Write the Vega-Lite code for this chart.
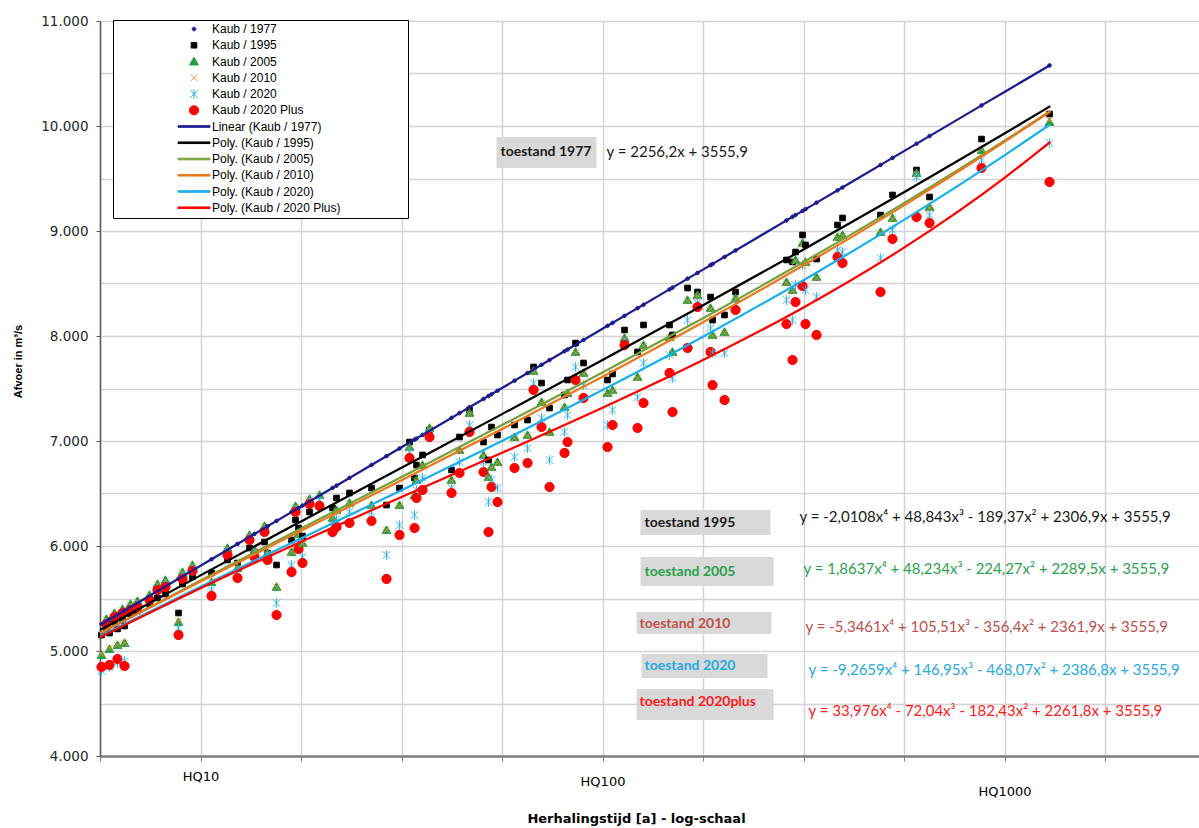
{
  "$schema": "https://vega.github.io/schema/vega-lite/v6.json",
  "width": 1099,
  "height": 735,
  "autosize": {"type": "none"},
  "padding": {"left": 100, "top": 21, "right": 0, "bottom": 72},
  "background": "#ffffff",
  "config": {"view": {"stroke": null}},
  "datasets": {
    "points": [
      {"x":0.7537,"p1977":5256,"p1995":5152,"p2005":4962,"p2010":4971,"p2020":4810,"p2020plus":4848},
      {"x":0.7662,"p1977":5285,"p1995":5229,"p2005":5305,"p2010":5295,"p2020":5267,"p2020plus":5257},
      {"x":0.7736,"p1977":5301,"p1995":5171,"p2005":5019,"p2010":5029,"p2020":4848,"p2020plus":4867},
      {"x":0.7861,"p1977":5330,"p1995":5276,"p2005":5362,"p2010":5352,"p2020":5324,"p2020plus":5324},
      {"x":0.7935,"p1977":5346,"p1995":5210,"p2005":5057,"p2010":5057,"p2020":4886,"p2020plus":4924},
      {"x":0.8060,"p1977":5374,"p1995":5305,"p2005":5400,"p2010":5390,"p2020":5362,"p2020plus":5362},
      {"x":0.8110,"p1977":5386,"p1995":5238,"p2005":5076,"p2010":5076,"p2020":4905,"p2020plus":4857},
      {"x":0.8259,"p1977":5419,"p1995":5352,"p2005":5448,"p2010":5438,"p2020":5400,"p2020plus":5390},
      {"x":0.8433,"p1977":5459,"p1995":5381,"p2005":5476,"p2010":5467,"p2020":5438,"p2020plus":5419},
      {"x":0.8731,"p1977":5526,"p1995":5448,"p2005":5533,"p2010":5524,"p2020":5495,"p2020plus":5486},
      {"x":0.8930,"p1977":5571,"p1995":5505,"p2005":5638,"p2010":5629,"p2020":5600,"p2020plus":5581},
      {"x":0.9129,"p1977":5616,"p1995":5543,"p2005":5676,"p2010":5667,"p2020":5638,"p2020plus":5610},
      {"x":0.9453,"p1977":5689,"p1995":5362,"p2005":5276,"p2010":5286,"p2020":5219,"p2020plus":5152},
      {"x":0.9552,"p1977":5711,"p1995":5638,"p2005":5752,"p2010":5743,"p2020":5714,"p2020plus":5686},
      {"x":0.9801,"p1977":5767,"p1995":5705,"p2005":5819,"p2010":5810,"p2020":5781,"p2020plus":5762},
      {"x":1.0274,"p1977":5874,"p1995":5743,"p2005":5657,"p2010":5667,"p2020":5581,"p2020plus":5524},
      {"x":1.0672,"p1977":5964,"p1995":5867,"p2005":5981,"p2010":5971,"p2020":5943,"p2020plus":5914},
      {"x":1.0920,"p1977":6020,"p1995":5838,"p2005":5790,"p2010":5790,"p2020":5752,"p2020plus":5695},
      {"x":1.1219,"p1977":6087,"p1995":5981,"p2005":6105,"p2010":6095,"p2020":6076,"p2020plus":6057},
      {"x":1.1343,"p1977":6115,"p1995":5943,"p2005":5962,"p2010":5952,"p2020":5933,"p2020plus":5895},
      {"x":1.1592,"p1977":6171,"p1995":6038,"p2005":6190,"p2010":6181,"p2020":6152,"p2020plus":6133},
      {"x":1.1667,"p1977":6188,"p1995":5933,"p2005":5933,"p2010":5924,"p2020":5905,"p2020plus":5867},
      {"x":1.1891,"p1977":6239,"p1995":5819,"p2005":5610,"p2010":5610,"p2020":5457,"p2020plus":5343},
      {"x":1.2264,"p1977":6323,"p1995":6057,"p2005":5943,"p2010":5943,"p2020":5819,"p2020plus":5752},
      {"x":1.2363,"p1977":6345,"p1995":6248,"p2005":6381,"p2010":6371,"p2020":6343,"p2020plus":6324},
      {"x":1.2438,"p1977":6362,"p1995":6171,"p2005":6114,"p2010":6105,"p2020":6038,"p2020plus":5971},
      {"x":1.2537,"p1977":6385,"p1995":6095,"p2005":6029,"p2010":6019,"p2020":5895,"p2020plus":5838},
      {"x":1.2712,"p1977":6424,"p1995":6324,"p2005":6448,"p2010":6438,"p2020":6419,"p2020plus":6400},
      {"x":1.2960,"p1977":6480,"p1995":6390,"p2005":6486,"p2010":6476,"p2020":6438,"p2020plus":6381},
      {"x":1.3284,"p1977":6553,"p1995":6362,"p2005":6267,"p2010":6267,"p2020":6200,"p2020plus":6133},
      {"x":1.3383,"p1977":6575,"p1995":6457,"p2005":6343,"p2010":6333,"p2020":6257,"p2020plus":6181},
      {"x":1.3707,"p1977":6649,"p1995":6505,"p2005":6410,"p2010":6400,"p2020":6324,"p2020plus":6219},
      {"x":1.4254,"p1977":6772,"p1995":6552,"p2005":6390,"p2010":6381,"p2020":6324,"p2020plus":6238},
      {"x":1.4627,"p1977":6856,"p1995":6390,"p2005":6152,"p2010":6152,"p2020":5914,"p2020plus":5686},
      {"x":1.4950,"p1977":6929,"p1995":6552,"p2005":6390,"p2010":6381,"p2020":6200,"p2020plus":6105},
      {"x":1.5199,"p1977":6985,"p1995":6990,"p2005":6943,"p2010":6933,"p2020":6895,"p2020plus":6838},
      {"x":1.5324,"p1977":7013,"p1995":6648,"p2005":6486,"p2010":6476,"p2020":6295,"p2020plus":6171},
      {"x":1.5373,"p1977":7024,"p1995":6771,"p2005":6629,"p2010":6619,"p2020":6533,"p2020plus":6457},
      {"x":1.5523,"p1977":7058,"p1995":6867,"p2005":6771,"p2010":6762,"p2020":6648,"p2020plus":6533},
      {"x":1.5697,"p1977":7098,"p1995":7105,"p2005":7124,"p2010":7114,"p2020":7076,"p2020plus":7038},
      {"x":1.6244,"p1977":7221,"p1995":6724,"p2005":6629,"p2010":6619,"p2020":6552,"p2020plus":6505},
      {"x":1.6443,"p1977":7266,"p1995":7038,"p2005":6914,"p2010":6905,"p2020":6800,"p2020plus":6695},
      {"x":1.6692,"p1977":7322,"p1995":7295,"p2005":7267,"p2010":7257,"p2020":7152,"p2020plus":7086},
      {"x":1.7040,"p1977":7401,"p1995":6990,"p2005":6867,"p2010":6857,"p2020":6800,"p2020plus":6705},
      {"x":1.7164,"p1977":7429,"p1995":6819,"p2005":6657,"p2010":6648,"p2020":6419,"p2020plus":6133},
      {"x":1.7239,"p1977":7445,"p1995":7133,"p2005":6752,"p2010":6743,"p2020":6629,"p2020plus":6562},
      {"x":1.7388,"p1977":7479,"p1995":7057,"p2005":6800,"p2010":6790,"p2020":6552,"p2020plus":6419},
      {"x":1.7811,"p1977":7574,"p1995":7152,"p2005":7038,"p2010":7029,"p2020":6848,"p2020plus":6743},
      {"x":1.8135,"p1977":7648,"p1995":7200,"p2005":7057,"p2010":7048,"p2020":6933,"p2020plus":6790},
      {"x":1.8284,"p1977":7681,"p1995":7705,"p2005":7667,"p2010":7657,"p2020":7552,"p2020plus":7486},
      {"x":1.8483,"p1977":7726,"p1995":7552,"p2005":7371,"p2010":7362,"p2020":7219,"p2020plus":7133},
      {"x":1.8682,"p1977":7771,"p1995":7314,"p2005":7086,"p2010":7076,"p2020":6819,"p2020plus":6562},
      {"x":1.9055,"p1977":7855,"p1995":7438,"p2005":7324,"p2010":7314,"p2020":7086,"p2020plus":6886},
      {"x":1.9130,"p1977":7872,"p1995":7581,"p2005":7457,"p2010":7448,"p2020":7248,"p2020plus":6990},
      {"x":1.9329,"p1977":7917,"p1995":7933,"p2005":7848,"p2010":7838,"p2020":7705,"p2020plus":7581},
      {"x":1.9528,"p1977":7962,"p1995":7743,"p2005":7648,"p2010":7638,"p2020":7533,"p2020plus":7410},
      {"x":2.0125,"p1977":8097,"p1995":7581,"p2005":7457,"p2010":7448,"p2020":7152,"p2020plus":6943},
      {"x":2.0249,"p1977":8125,"p1995":7638,"p2005":7486,"p2010":7476,"p2020":7295,"p2020plus":7152},
      {"x":2.0548,"p1977":8192,"p1995":8057,"p2005":7981,"p2010":7971,"p2020":7943,"p2020plus":7914},
      {"x":2.0871,"p1977":8265,"p1995":7848,"p2005":7610,"p2010":7600,"p2020":7419,"p2020plus":7124},
      {"x":2.1020,"p1977":8298,"p1995":8105,"p2005":7914,"p2010":7905,"p2020":7743,"p2020plus":7362},
      {"x":2.1667,"p1977":8444,"p1995":8105,"p2005":7990,"p2010":7981,"p2020":7819,"p2020plus":7648},
      {"x":2.1742,"p1977":8461,"p1995":8010,"p2005":7848,"p2010":7838,"p2020":7600,"p2020plus":7276},
      {"x":2.2115,"p1977":8546,"p1995":8457,"p2005":8343,"p2010":8333,"p2020":8152,"p2020plus":7886},
      {"x":2.2363,"p1977":8601,"p1995":8419,"p2005":8390,"p2010":8381,"p2020":8314,"p2020plus":8276},
      {"x":2.2687,"p1977":8675,"p1995":8371,"p2005":8267,"p2010":8257,"p2020":8076,"p2020plus":7848},
      {"x":2.2737,"p1977":8686,"p1995":8152,"p2005":8010,"p2010":8000,"p2020":7838,"p2020plus":7533},
      {"x":2.3035,"p1977":8753,"p1995":8200,"p2005":8038,"p2010":8029,"p2020":7838,"p2020plus":7390},
      {"x":2.3309,"p1977":8815,"p1995":8419,"p2005":8362,"p2010":8352,"p2020":8305,"p2020plus":8248},
      {"x":2.4577,"p1977":9101,"p1995":8724,"p2005":8514,"p2010":8505,"p2020":8343,"p2020plus":8114},
      {"x":2.4727,"p1977":9135,"p1995":8705,"p2005":8438,"p2010":8429,"p2020":8152,"p2020plus":7771},
      {"x":2.4801,"p1977":9152,"p1995":8800,"p2005":8724,"p2010":8714,"p2020":8486,"p2020plus":8324},
      {"x":2.4975,"p1977":9191,"p1995":8962,"p2005":8886,"p2010":8876,"p2020":8676,"p2020plus":8476},
      {"x":2.5050,"p1977":9208,"p1995":8867,"p2005":8705,"p2010":8695,"p2020":8438,"p2020plus":8114},
      {"x":2.5324,"p1977":9270,"p1995":8733,"p2005":8562,"p2010":8552,"p2020":8371,"p2020plus":8010},
      {"x":2.5846,"p1977":9387,"p1995":9057,"p2005":8943,"p2010":8933,"p2020":8819,"p2020plus":8752},
      {"x":2.5970,"p1977":9415,"p1995":9124,"p2005":8962,"p2010":8952,"p2020":8800,"p2020plus":8695},
      {"x":2.6916,"p1977":9629,"p1995":9152,"p2005":8990,"p2010":8981,"p2020":8743,"p2020plus":8419},
      {"x":2.7214,"p1977":9696,"p1995":9343,"p2005":9124,"p2010":9114,"p2020":9010,"p2020plus":8924},
      {"x":2.7811,"p1977":9831,"p1995":9581,"p2005":9552,"p2010":9543,"p2020":9514,"p2020plus":9133},
      {"x":2.8135,"p1977":9904,"p1995":9324,"p2005":9229,"p2010":9219,"p2020":9152,"p2020plus":9076},
      {"x":2.9428,"p1977":10196,"p1995":9876,"p2005":9771,"p2010":9781,"p2020":9676,"p2020plus":9600},
      {"x":3.1120,"p1977":10577,"p1995":10114,"p2005":10038,"p2010":10057,"p2020":9838,"p2020plus":9467}
    ],
    "trend": [
      {"x":0.75,"l1977":5248.1,"l1995":5199.5,"l2005":5167.8,"l2010":5169.7,"l2020":5141.8,"l2020plus":5130.0},
      {"x":1.0,"l1977":5812.1,"l1995":5720.3,"l2005":5671.2,"l2010":5661.6,"l2020":5612.3,"l2020plus":5597.2},
      {"x":1.25,"l1977":6376.2,"l1995":6234.1,"l2005":6166.1,"l2010":6144.4,"l2020":6072.4,"l2020plus":6040.4},
      {"x":1.5,"l1977":6940.2,"l1995":6744.8,"l2005":6657.8,"l2010":6625.9,"l2020":6532.0,"l2020plus":6467.0},
      {"x":1.75,"l1977":7504.3,"l1995":7255.9,"l2005":7151.7,"l2010":7113.1,"l2020":7000.0,"l2020plus":6887.9},
      {"x":2.0,"l1977":8068.3,"l1995":7770.8,"l2005":7653.5,"l2010":7612.6,"l2020":7484.6,"l2020plus":7317.1},
      {"x":2.25,"l1977":8632.4,"l1995":8292.6,"l2005":8169.1,"l2010":8130.7,"l2020":7993.0,"l2020plus":7771.6},
      {"x":2.5,"l1977":9196.4,"l1995":8824.2,"l2005":8704.4,"l2010":8672.9,"l2020":8531.6,"l2020plus":8271.8},
      {"x":2.75,"l1977":9760.5,"l1995":9368.5,"l2005":9265.7,"l2010":9244.4,"l2020":9106.0,"l2020plus":8841.2},
      {"x":3.0,"l1977":10324.5,"l1995":9928.2,"l2005":9859.3,"l2010":9849.7,"l2020":9720.8,"l2020plus":9506.4},
      {"x":3.114,"l1977":10581.7,"l1995":10189.1,"l2005":10142.4,"l2010":10138.2,"l2020":10015.6,"l2020plus":9849.6}
    ],
    "boxes": [
      {"state":"1977","x":1.7363,"x2":1.9851,"Q":9895,"Q2":9600},
      {"state":"1995","x":2.0945,"x2":2.4179,"Q":6343,"Q2":6105},
      {"state":"2005","x":2.0945,"x2":2.4254,"Q":5895,"Q2":5619},
      {"state":"2010","x":2.0846,"x2":2.4204,"Q":5371,"Q2":5162},
      {"state":"2020","x":2.0970,"x2":2.4105,"Q":4971,"Q2":4743},
      {"state":"2020plus","x":2.0846,"x2":2.4254,"Q":4638,"Q2":4343}
    ],
    "boxlabels": [
      {"state":"1977","x":1.7463,"Q":9752,"text":"toestand 1977"},
      {"state":"1995","x":2.1045,"Q":6219,"text":"toestand 1995"},
      {"state":"2005","x":2.1045,"Q":5752,"text":"toestand 2005"},
      {"state":"2010","x":2.0921,"Q":5257,"text":"toestand 2010"},
      {"state":"2020","x":2.1045,"Q":4857,"text":"toestand 2020"},
      {"state":"2020plus","x":2.0921,"Q":4514,"text":"toestand 2020plus"}
    ],
    "equations": [
      {"state":"1977","x":2.0100,"Q":9752,"text":"y = 2256,2x + 3555,9"},
      {"state":"1995","x":2.4901,"Q":6276,"text":"y = -2,0108x⁴ + 48,843x³ - 189,37x² + 2306,9x + 3555,9"},
      {"state":"2005","x":2.5000,"Q":5781,"text":"y = 1,8637x⁴ + 48,234x³ - 224,27x² + 2289,5x + 3555,9"},
      {"state":"2010","x":2.5050,"Q":5229,"text":"y = -5,3461x⁴ + 105,51x³ - 356,4x² + 2361,9x + 3555,9"},
      {"state":"2020","x":2.5125,"Q":4819,"text":"y = -9,2659x⁴ + 146,95x³ - 468,07x² + 2386,8x + 3555,9"},
      {"state":"2020plus","x":2.5125,"Q":4429,"text":"y = 33,976x⁴ - 72,04x³ - 182,43x² + 2261,8x + 3555,9"}
    ]
  },
  "encoding": {
    "x": {
      "field": "x", "type": "quantitative",
      "scale": {"domain": [0.75, 3.4838], "nice": false, "zero": false},
      "axis": {
        "values": [0.75, 1, 1.25, 1.5, 1.75, 2, 2.25, 2.5, 2.75, 3, 3.25],
        "labelExpr": "datum.value == 1 ? 'HQ10' : (datum.value == 2 ? 'HQ100' : (datum.value == 3 ? 'HQ1000' : ''))",
        "grid": true, "gridColor": "#d4d4d4", "gridWidth": 1.5,
        "domainColor": "#808080", "domainWidth": 2.5,
        "tickColor": "#808080", "tickSize": 5, "tickWidth": 1,
        "labelFont": "DejaVu Sans", "labelFontSize": 13, "labelColor": "#000000",
        "labelBaseline": "top", "labelAlign": "center", "labelOverlap": false,
        "labelPadding": {"condition": [{"test": "datum.value == 2", "value": 14}, {"test": "datum.value == 3", "value": 24}], "value": 9},
        "title": "Herhalingstijd [a] - log-schaal",
        "titleFont": "DejaVu Sans", "titleFontSize": 13, "titleFontWeight": "bold", "titleColor": "#000000",
        "titleX": 536, "titleY": 62, "titleAlign": "center", "titleBaseline": "middle", "titleAnchor": null
      }
    },
    "y": {
      "field": "Q", "type": "quantitative",
      "scale": {"domain": [4000, 11000], "nice": false, "zero": false},
      "axis": {
        "values": [4000, 4500, 5000, 5500, 6000, 6500, 7000, 7500, 8000, 8500, 9000, 9500, 10000, 10500, 11000],
        "labelExpr": "datum.value % 1000 == 0 ? replace(format(datum.value, ','), ',', '.') : ''",
        "grid": true, "gridColor": "#d4d4d4", "gridWidth": 1.5,
        "domainColor": "#595959", "domainWidth": 1.5,
        "tickColor": "#595959", "tickSize": 4,
        "tickOpacity": {"condition": {"test": "datum.value % 1000 != 0", "value": 0}, "value": 1},
        "labelFont": "DejaVu Sans", "labelFontSize": 13.5, "labelColor": "#262626", "labelPadding": 8,
        "labelOverlap": false,
        "title": "Afvoer in m³/s",
        "titleFont": "Liberation Sans", "titleFontSize": 11, "titleFontWeight": "bold", "titleColor": "#000000",
        "titleAngle": -90, "titleX": -82, "titleY": 340, "titleAlign": "center", "titleBaseline": "middle", "titleAnchor": null
      }
    }
  },
  "layer": [
    {
      "data": {"name": "boxes"},
      "mark": {"type": "rect", "fill": "#d9d9d9"},
      "encoding": {"x2": {"field": "x2"}, "y2": {"field": "Q2"}}
    },
    {
      "encoding": {
        "stroke": {
          "field": "series", "type": "nominal",
          "scale": {
            "domain": ["p1977","p1995","p2005","p2010","p2020","p2020plus","l1977","l1995","l2005","l2010","l2020","l2020plus"],
            "range": ["#1c1c8f","#000000","#1f9e3a","#f4904a","#34b4ea","#ff0000","#1c1c8f","#000000","#77a03c","#e8791e","#1ab0ee","#ff0000"]
          },
          "legend": {
            "title": null, "orient": "none", "legendX": 13, "legendY": -1,
            "strokeColor": "#000000", "fillColor": "#ffffff", "padding": 4,
            "clipHeight": 10, "rowPadding": 4.25, "symbolSize": 64, "symbolStrokeWidth": 1,
            "symbolOffset": 71, "labelOffset": 12,
            "labelFont": "Liberation Sans", "labelFontSize": 12, "labelColor": "#000000", "labelLimit": 400,
            "labelExpr": "({'p1977':'Kaub / 1977','p1995':'Kaub / 1995','p2005':'Kaub / 2005','p2010':'Kaub / 2010','p2020':'Kaub / 2020','p2020plus':'Kaub / 2020 Plus','l1977':'Linear (Kaub / 1977)','l1995':'Poly. (Kaub / 1995)','l2005':'Poly. (Kaub / 2005)','l2010':'Poly. (Kaub / 2010)','l2020':'Poly. (Kaub / 2020)','l2020plus':'Poly. (Kaub / 2020 Plus)'})[datum.label] + '\u2800\u2800\u2800\u2800\u2800\u2800\u2800'"
          }
        }
      },
      "layer": [
        {
          "data": {"name": "points"},
          "transform": [{"fold": ["p1977","p1995","p2005","p2010","p2020","p2020plus"], "as": ["series","Q"]}],
          "mark": {"type": "point", "size": 64, "strokeWidth": 1, "opacity": 1},
          "encoding": {
            "fill": {
              "field": "series", "type": "nominal",
              "scale": {
                "domain": ["p1977","p1995","p2005","p2010","p2020","p2020plus","l1977","l1995","l2005","l2010","l2020","l2020plus"],
                "range": ["#1c1c8f","#000000","#1f9e3a","transparent","transparent","#ff0000","#1c1c8f","#000000","#77a03c","#e8791e","#1ab0ee","#ff0000"]
              },
              "legend": {
                "title": null, "orient": "none", "legendX": 13, "legendY": -1,
                "strokeColor": "#000000", "fillColor": "#ffffff", "padding": 4,
                "clipHeight": 10, "rowPadding": 4.25, "symbolSize": 64, "symbolStrokeWidth": 1,
                "symbolOffset": 71, "labelOffset": 12,
                "labelFont": "Liberation Sans", "labelFontSize": 12, "labelColor": "#000000", "labelLimit": 400,
                "labelExpr": "({'p1977':'Kaub / 1977','p1995':'Kaub / 1995','p2005':'Kaub / 2005','p2010':'Kaub / 2010','p2020':'Kaub / 2020','p2020plus':'Kaub / 2020 Plus','l1977':'Linear (Kaub / 1977)','l1995':'Poly. (Kaub / 1995)','l2005':'Poly. (Kaub / 2005)','l2010':'Poly. (Kaub / 2010)','l2020':'Poly. (Kaub / 2020)','l2020plus':'Poly. (Kaub / 2020 Plus)'})[datum.label] + '\u2800\u2800\u2800\u2800\u2800\u2800\u2800'"
              }
            },
            "shape": {
              "field": "series", "type": "nominal",
              "scale": {
                "domain": ["p1977","p1995","p2005","p2010","p2020","p2020plus","l1977","l1995","l2005","l2010","l2020","l2020plus"],
                "range": [
                  "M0.45,0A0.45,0.45,0,1,1,-0.45,0A0.45,0.45,0,1,1,0.45,0Z",
                  "M-0.7,-0.7L0.7,-0.7L0.7,0.7L-0.7,0.7Z",
                  "M0,-1.05L1.1,0.85L-1.1,0.85Z",
                  "M-0.85,-0.85L0.85,0.85M-0.85,0.85L0.85,-0.85",
                  "M-0.95,-0.95L0.95,0.95M-0.95,0.95L0.95,-0.95M0,-1.2L0,1.2",
                  "M1.15,0A1.15,1.15,0,1,1,-1.15,0A1.15,1.15,0,1,1,1.15,0Z",
                  "M-4,-0.2L4,-0.2L4,0.2L-4,0.2Z",
                  "M-4,-0.2L4,-0.2L4,0.2L-4,0.2Z",
                  "M-4,-0.2L4,-0.2L4,0.2L-4,0.2Z",
                  "M-4,-0.2L4,-0.2L4,0.2L-4,0.2Z",
                  "M-4,-0.2L4,-0.2L4,0.2L-4,0.2Z",
                  "M-4,-0.2L4,-0.2L4,0.2L-4,0.2Z"
                ]
              },
              "legend": {
                "title": null, "orient": "none", "legendX": 13, "legendY": -1,
                "strokeColor": "#000000", "fillColor": "#ffffff", "padding": 4,
                "clipHeight": 10, "rowPadding": 4.25, "symbolSize": 64, "symbolStrokeWidth": 1,
                "symbolOffset": 71, "labelOffset": 12,
                "labelFont": "Liberation Sans", "labelFontSize": 12, "labelColor": "#000000", "labelLimit": 400,
                "labelExpr": "({'p1977':'Kaub / 1977','p1995':'Kaub / 1995','p2005':'Kaub / 2005','p2010':'Kaub / 2010','p2020':'Kaub / 2020','p2020plus':'Kaub / 2020 Plus','l1977':'Linear (Kaub / 1977)','l1995':'Poly. (Kaub / 1995)','l2005':'Poly. (Kaub / 2005)','l2010':'Poly. (Kaub / 2010)','l2020':'Poly. (Kaub / 2020)','l2020plus':'Poly. (Kaub / 2020 Plus)'})[datum.label] + '\u2800\u2800\u2800\u2800\u2800\u2800\u2800'"
              }
            }
          }
        },
        {
          "data": {"name": "trend"},
          "transform": [{"fold": ["l1977","l1995","l2005","l2010","l2020","l2020plus"], "as": ["series","Q"]}],
          "mark": {"type": "line", "strokeWidth": 2.25, "interpolate": "monotone"},
          "encoding": {}
        }
      ]
    },
    {
      "data": {"name": "boxlabels"},
      "mark": {"type": "text", "align": "left", "baseline": "middle", "font": "Lato", "fontSize": 14, "fontWeight": "bold"},
      "encoding": {
        "text": {"field": "text"},
        "color": {
          "field": "state", "type": "nominal",
          "scale": {"domain": ["1977","1995","2005","2010","2020","2020plus"], "range": ["#1a1a1a","#1a1a1a","#2ca24c","#c0504d","#27a9e1","#ff1a1a"]},
          "legend": null
        }
      }
    },
    {
      "data": {"name": "equations"},
      "mark": {"type": "text", "align": "left", "baseline": "middle", "font": "Lato", "fontSize": 15},
      "encoding": {
        "text": {"field": "text"},
        "color": {
          "field": "state", "type": "nominal",
          "scale": {"domain": ["1977","1995","2005","2010","2020","2020plus"], "range": ["#1a1a1a","#1a1a1a","#2ca24c","#c0504d","#27a9e1","#ff1a1a"]},
          "legend": null
        }
      }
    }
  ]
}
